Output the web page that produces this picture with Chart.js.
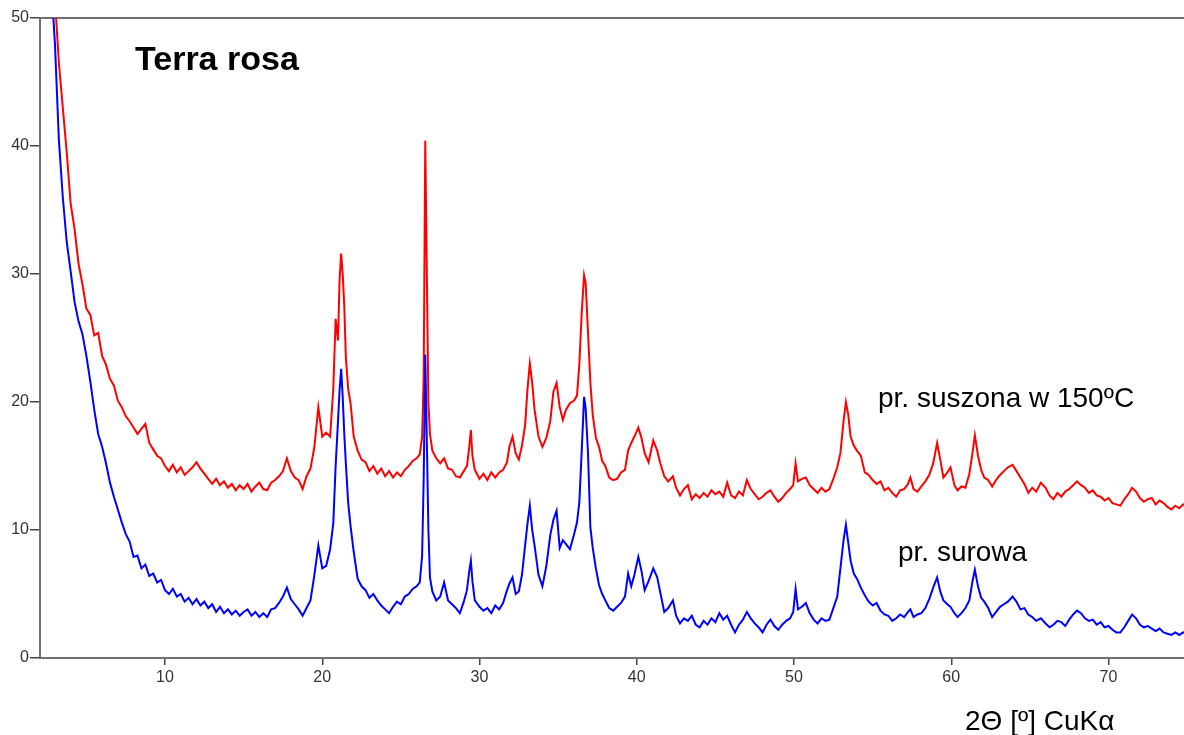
<!DOCTYPE html>
<html>
<head>
<meta charset="utf-8">
<script src="https://cdn.jsdelivr.net/npm/chart.js@4/dist/chart.umd.min.js"></script>
<style>
  html, body { margin: 0; background: #fff; }
  #wrap { position: relative; width: 1184px; height: 735px; }
</style>
</head>
<body>
<div id="wrap"><canvas id="xrd"></canvas></div>
<script>
// ---------- Data ----------
// 2Θ positions (degrees), shared by both patterns
const twoTheta = [
  2.5, 2.75, 3.0, 3.25, 3.5, 3.75, 4.0, 4.25, 4.5, 4.75, 5.0, 5.25, 5.5, 5.75, 6.0, 6.25,
  6.5, 6.75, 7.0, 7.25, 7.5, 7.75, 8.0, 8.25, 8.5, 8.75, 9.0, 9.25, 9.5, 9.75, 10.0,
  10.25, 10.5, 10.75, 11.0, 11.25, 11.5, 11.75, 12.0, 12.25, 12.5, 12.75, 13.0, 13.25, 13.5,
  13.75, 14.0, 14.25, 14.5, 14.75, 15.0, 15.25, 15.5, 15.75, 16.0, 16.25, 16.5, 16.75, 17.0,
  17.25, 17.5, 17.75, 18.0, 18.25, 18.5, 18.75, 19.0, 19.25, 19.5, 19.75, 20.0, 20.25, 20.5,
  20.7, 20.85, 21.0, 21.1, 21.2, 21.3, 21.4, 21.5, 21.65, 21.8, 22.0, 22.25, 22.5, 22.75,
  23.0, 23.25, 23.5, 23.75, 24.0, 24.25, 24.5, 24.75, 25.0, 25.25, 25.5, 25.75, 26.0, 26.2,
  26.35, 26.45, 26.55, 26.65, 26.75, 26.85, 27.0,
  27.25, 27.5, 27.75, 28.0, 28.25, 28.5, 28.75, 29.0, 29.2, 29.35, 29.45, 29.55, 29.7, 30.0,
  30.25, 30.5, 30.75, 31.0, 31.25, 31.5, 31.75, 31.9, 32.1, 32.3, 32.5, 32.7, 32.9, 33.05,
  33.2, 33.35, 33.5, 33.75, 34.0, 34.25, 34.5, 34.7, 34.9, 35.1, 35.3, 35.5, 35.75, 36.0,
  36.2, 36.35, 36.5, 36.65, 36.75, 36.9, 37.05, 37.2, 37.4, 37.6, 37.8, 38.0,
  38.25, 38.5, 38.75, 39.0, 39.25, 39.45, 39.65, 39.85, 40.1, 40.3, 40.5, 40.75, 41.05, 41.3,
  41.5, 41.75, 42.0, 42.3, 42.5, 42.75, 43.0, 43.25, 43.5, 43.75, 44.0, 44.25, 44.5, 44.75,
  45.0, 45.25, 45.5, 45.75, 46.0, 46.25, 46.5, 46.75, 47.0, 47.25, 47.5, 47.75, 48.0, 48.25,
  48.5, 48.75, 49.0, 49.25, 49.5, 49.75, 49.95, 50.1, 50.25, 50.5, 50.75, 51.0, 51.25, 51.5,
  51.75, 52.0, 52.25, 52.5, 52.75, 52.95, 53.15, 53.3, 53.45, 53.6, 53.8, 54.0,
  54.25, 54.5, 54.75, 55.0, 55.25, 55.5, 55.75, 56.0, 56.25, 56.5, 56.75, 57.0, 57.25, 57.4,
  57.6, 57.85, 58.1, 58.35, 58.6, 58.85, 59.1, 59.3, 59.5, 59.75, 59.95, 60.2, 60.4, 60.65,
  60.9, 61.15, 61.35, 61.5, 61.7, 61.9, 62.1, 62.35, 62.6, 62.85, 63.1, 63.35, 63.6, 63.9,
  64.15, 64.4, 64.65, 64.9, 65.15, 65.4, 65.7, 66.0, 66.25, 66.5, 66.75, 67.0, 67.25, 67.5,
  67.75, 68.0, 68.25, 68.5, 68.75, 69.0, 69.25, 69.5, 69.75, 70.0, 70.25, 70.5, 70.75, 71.0,
  71.25, 71.5, 71.75, 72.0, 72.25, 72.5, 72.75, 73.0, 73.25, 73.5, 73.75, 74.0, 74.25, 74.5,
  74.75, 75.0
];

// pr. suszona w 150ºC (red)
const suszona = [
  60, 55, 51.5, 46.5, 43, 39.5, 35.5, 33.5, 30.8, 29.2, 27.3, 26.8, 25.2, 25.4, 23.6, 22.9,
  21.8, 21.3, 20.1, 19.6, 18.9, 18.5, 18.0, 17.5, 17.9, 18.3, 16.8, 16.3, 15.8, 15.6, 15.0,
  14.6, 15.1, 14.5, 14.9, 14.3, 14.6, 14.9, 15.3, 14.8, 14.4, 14.0, 13.6, 14.0, 13.5,
  13.8, 13.3, 13.6, 13.1, 13.5, 13.2, 13.6, 13.0, 13.4, 13.7, 13.2, 13.1, 13.7, 13.9,
  14.2, 14.6, 15.6, 14.6, 14.1, 13.9, 13.2, 14.2, 14.8, 16.5, 19.6, 17.3, 17.6, 17.3,
  21.0, 26.5, 24.8, 29.5, 31.6, 30.0, 27.5, 23.5, 21.0, 19.9, 17.3, 16.2, 15.5, 15.3,
  14.6, 15.0, 14.4, 14.8, 14.2, 14.6, 14.1, 14.5, 14.2, 14.7, 15.0, 15.4, 15.6, 15.9,
  17.3, 22.0, 40.4, 30.0, 19.9, 17.5, 16.2,
  15.6, 15.2, 15.6, 14.8, 14.7, 14.2, 14.1, 14.6, 15.0, 16.5, 17.8, 15.8, 14.7, 14.0,
  14.4, 13.9, 14.5, 14.1, 14.5, 14.7, 15.3, 16.5, 17.3, 16.0, 15.5, 16.6, 18.2, 21.0,
  23.0, 21.5, 19.4, 17.3, 16.5, 17.2, 18.5, 20.8, 21.5, 19.6, 18.6, 19.4, 19.9, 20.1,
  20.5, 23.0, 27.0, 29.9, 29.3, 25.4, 21.5, 19.0, 17.2, 16.5, 15.4, 15.0,
  14.1, 13.9, 14.0, 14.5, 14.7, 16.2, 16.8, 17.3, 18.0, 17.2, 16.0, 15.3, 17.0, 16.2,
  15.2, 14.2, 13.8, 14.2, 13.3, 12.7, 13.2, 13.5, 12.4, 12.8, 12.5, 12.9, 12.6, 13.1,
  12.8, 13.0, 12.6, 13.7, 12.7, 12.5, 13.0, 12.7, 13.9, 13.2, 12.8, 12.4, 12.6, 12.9,
  13.1, 12.6, 12.2, 12.5, 12.9, 13.2, 13.5, 15.2, 13.8, 14.0, 14.1, 13.5, 13.2, 12.9,
  13.3, 13.0, 13.2, 14.0, 14.9, 16.0, 18.5, 20.0, 19.0, 17.3, 16.6, 16.2,
  15.8, 14.5, 14.3, 13.9, 13.6, 13.8, 13.1, 13.3, 12.9, 12.6, 13.1, 13.2, 13.6, 14.1,
  13.2, 13.0, 13.4, 13.8, 14.3, 15.2, 16.8, 15.5, 14.1, 14.5, 14.9, 13.5, 13.1, 13.4,
  13.3, 14.4, 16.0, 17.4, 15.8, 14.7, 14.1, 13.9, 13.4, 13.9, 14.3, 14.6, 14.9, 15.1,
  14.6, 14.1, 13.6, 12.9, 13.3, 13.0, 13.7, 13.3, 12.7, 12.4, 12.9, 12.6, 13.0, 13.2,
  13.5, 13.8, 13.5, 13.3, 12.9, 13.1, 12.7, 12.6, 12.3, 12.5, 12.1, 12.0, 11.9, 12.4,
  12.8, 13.3, 13.0, 12.5, 12.2, 12.4, 12.5, 12.0, 12.3, 12.1, 11.8, 11.6, 11.9, 11.7,
  12.0, 11.9
];

// pr. surowa (blue)
const surowa = [
  58, 53, 48, 40.5, 36, 32.5, 30.2, 27.8, 26.3, 25.3, 23.6, 21.6, 19.4, 17.5, 16.5, 15.2,
  13.7, 12.6, 11.6, 10.6, 9.7, 9.1, 7.9, 8.0, 7.0, 7.3, 6.4, 6.6, 5.9, 6.1, 5.3,
  5.0, 5.4, 4.8, 5.0, 4.4, 4.7, 4.2, 4.6, 4.1, 4.4, 3.9, 4.2, 3.6, 4.0,
  3.5, 3.8, 3.4, 3.7, 3.3, 3.6, 3.8, 3.3, 3.6, 3.2, 3.5, 3.2, 3.8, 3.9,
  4.3, 4.8, 5.5, 4.6, 4.2, 3.8, 3.3, 3.9, 4.5, 6.5, 8.8, 7.0, 7.2, 8.5,
  10.5, 15.0, 18.5, 20.9, 22.6, 20.4, 17.5, 15.2, 12.1, 10.3, 8.3, 6.2, 5.6, 5.3,
  4.7, 5.0, 4.5, 4.1, 3.8, 3.5, 4.0, 4.4, 4.2, 4.8, 5.0, 5.4, 5.6, 5.9,
  8.0, 14.0, 23.7, 17.0, 10.0, 6.3, 5.2,
  4.5, 4.8, 5.9, 4.5, 4.2, 3.9, 3.5, 4.4, 5.3, 6.8, 7.6, 6.0, 4.5, 4.0,
  3.7, 3.9, 3.5, 4.1, 3.8, 4.3, 5.3, 5.8, 6.3, 5.0, 5.2, 6.5, 8.8, 10.5,
  11.9, 10.0, 8.8, 6.5, 5.6, 7.2, 9.6, 10.8, 11.5, 8.6, 9.2, 8.9, 8.5, 9.6,
  10.6, 12.2, 16.2, 20.4, 19.5, 16.0, 10.2, 8.6, 7.0, 5.7, 5.0, 4.5,
  3.9, 3.7, 4.0, 4.3, 4.8, 6.6, 5.6, 6.5, 7.9, 6.8, 5.3, 6.0, 7.0, 6.3,
  5.1, 3.6, 3.9, 4.5, 3.3, 2.7, 3.1, 2.9, 3.3, 2.6, 2.4, 2.9, 2.6, 3.1,
  2.8, 3.5, 3.0, 3.3, 2.6, 2.0, 2.6, 3.0, 3.6, 3.1, 2.7, 2.4, 2.0, 2.6,
  3.0, 2.5, 2.2, 2.6, 2.9, 3.1, 3.6, 5.4, 3.8, 4.0, 4.3, 3.5, 3.0, 2.7,
  3.1, 2.9, 3.0, 3.9, 4.8, 7.0, 9.2, 10.4, 9.0, 7.6, 6.6, 6.2,
  5.5, 4.9, 4.4, 4.1, 4.3, 3.7, 3.4, 3.3, 2.9, 3.1, 3.4, 3.2, 3.6, 3.8,
  3.2, 3.4, 3.5, 3.9, 4.6, 5.5, 6.3, 5.2, 4.5, 4.2, 4.0, 3.5, 3.2, 3.5,
  3.9, 4.5, 6.0, 6.9, 5.6, 4.7, 4.4, 3.9, 3.2, 3.6, 4.0, 4.2, 4.4, 4.8,
  4.4, 3.8, 3.9, 3.4, 3.2, 2.9, 3.1, 2.7, 2.4, 2.6, 2.9, 2.8, 2.5, 3.0,
  3.4, 3.7, 3.5, 3.1, 2.9, 3.0, 2.6, 2.8, 2.4, 2.5, 2.2, 2.0, 2.0, 2.4,
  2.9, 3.4, 3.1, 2.6, 2.4, 2.5, 2.3, 2.1, 2.3, 2.0, 1.9, 1.8, 2.0, 1.8,
  2.0, 1.9
];

const xTicks = [10, 20, 30, 40, 50, 60, 70];
const yTicks = [0, 10, 20, 30, 40, 50];

const chartTitle = 'Terra rosa';
const seriesLabels = ['pr. surowa', 'pr. suszona w 150ºC'];
const axisTitle = '2Θ [º] CuKα';

if (suszona.length !== twoTheta.length || surowa.length !== twoTheta.length) {
    throw new Error('length mismatch: ' + twoTheta.length + ' / ' + suszona.length + ' / ' + surowa.length);
}

// ---------- Chart ----------
const FONT = 'Arial, "Liberation Sans", sans-serif';
const AXIS = '#707070';

// free-standing labels (title, curve names, axis title)
const textLabels = {
    id: 'textLabels',
    afterDraw(chart) {
        const { ctx } = chart;
        ctx.save();
        ctx.fillStyle = '#000';
        ctx.textBaseline = 'alphabetic';
        ctx.textAlign = 'left';
        ctx.font = 'bold 34px ' + FONT;
        ctx.fillText(chartTitle, 135, 70);
        ctx.font = '28px ' + FONT;
        ctx.fillText(seriesLabels[1], 878, 407);
        ctx.fillText(seriesLabels[0], 898, 561);
        ctx.fillText(axisTitle, 965, 730);
        ctx.restore();
    }
};

const toPoints = ys => twoTheta.map((x, i) => ({ x, y: ys[i] }));

new Chart(document.getElementById('xrd'), {
    type: 'line',
    data: {
        datasets: [
            // first dataset is drawn on top
            { label: seriesLabels[0], data: toPoints(surowa), borderColor: '#0000ff' },
            { label: seriesLabels[1], data: toPoints(suszona), borderColor: '#ff0000' },
        ],
    },
    options: {
        responsive: true,
        maintainAspectRatio: false,
        devicePixelRatio: 1,
        animation: false,
        layout: { padding: { top: 18, left: 0, right: 0, bottom: 0 } },
        elements: {
            line: { borderWidth: 2, tension: 0 },
            point: { radius: 0, hoverRadius: 0 },
        },
        plugins: {
            legend: { display: false },
            tooltip: { enabled: false },
        },
        scales: {
            x: {
                type: 'linear',
                position: 'bottom',
                min: 2.05,
                max: 74.8,
                afterBuildTicks: s => { s.ticks = xTicks.map(v => ({ value: v })); },
                afterFit: s => { s.height = 77; },
                border: { color: AXIS, width: 2 },
                grid: { drawOnChartArea: false, drawTicks: true, tickLength: 7, color: '#444', lineWidth: 1.5 },
                ticks: { color: '#333', font: { family: FONT, size: 16 }, padding: 3, maxRotation: 0 },
            },
            xTop: {
                type: 'linear',
                position: 'top',
                min: 2.05,
                max: 74.8,
                afterFit: s => { s.height = 0; },
                border: { color: AXIS, width: 2 },
                grid: { display: false, drawTicks: false },
                ticks: { display: false },
            },
            y: {
                min: 0,
                max: 50,
                afterBuildTicks: s => { s.ticks = yTicks.map(v => ({ value: v })); },
                afterFit: s => { s.width = 40; },
                border: { color: AXIS, width: 2 },
                grid: { drawOnChartArea: false, drawTicks: true, tickLength: 10, color: '#444', lineWidth: 1.5 },
                ticks: { color: '#333', font: { family: FONT, size: 16 }, padding: 1 },
            },
        },
    },
    plugins: [textLabels],
});
</script>
</body>
</html>
